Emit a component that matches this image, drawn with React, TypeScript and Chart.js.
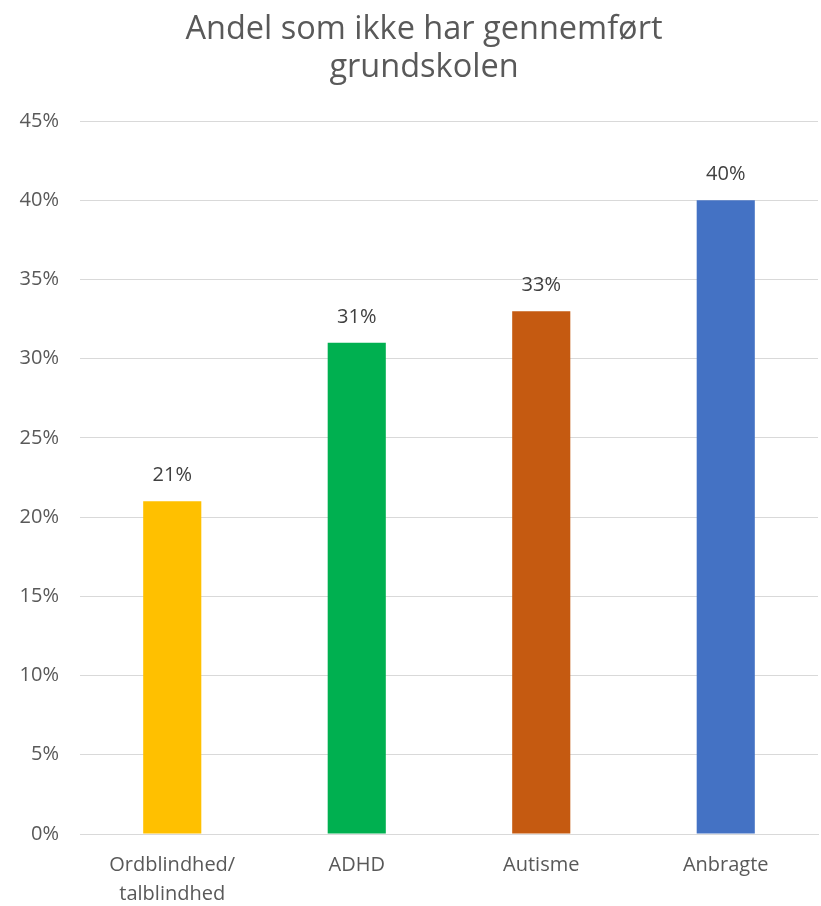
import React, { useEffect, useRef } from "react";
import { Chart, registerables } from "chart.js";

Chart.register(...registerables);

const categories: (string | string[])[] = [["Ordblindhed/", "talblindhed"], "ADHD", "Autisme", "Anbragte"];
const values: number[] = [21, 31, 33, 40];
const barColors: string[] = ["#FFC000", "#00B050", "#C55A11", "#4472C4"];
const titleLines: string[] = ["Andel som ikke har gennemført", "grundskolen"];

const FONT = "'Open Sans', sans-serif";

const valueLabels = {
  id: "valueLabels",
  afterDatasetsDraw(chart: any) {
    const ctx = chart.ctx;
    const meta = chart.getDatasetMeta(0);
    ctx.save();
    ctx.font = `20px ${FONT}`;
    ctx.fillStyle = "#404040";
    ctx.textAlign = "center";
    ctx.textBaseline = "middle";
    meta.data.forEach((bar: any, i: number) => {
      ctx.fillText(values[i] + "%", bar.x, bar.y - 26);
    });
    ctx.restore();
  },
};

const titleDraw = {
  id: "titleDraw",
  afterDraw(chart: any) {
    const ctx = chart.ctx;
    ctx.save();
    ctx.font = `32.5px ${FONT}`;
    ctx.fillStyle = "#595959";
    ctx.textAlign = "center";
    ctx.textBaseline = "middle";
    ctx.fillText(titleLines[0], 424, 30);
    ctx.fillText(titleLines[1], 424, 68);
    ctx.restore();
  },
};

export default function App() {
  const ref = useRef<HTMLCanvasElement>(null);
  useEffect(() => {
    if (!ref.current) return;
    const chart = new Chart(ref.current, {
      type: "bar",
      data: {
        labels: categories,
        datasets: [
          {
            data: values,
            backgroundColor: barColors,
            categoryPercentage: 1,
            barPercentage: 0.315,
          },
        ],
      },
      options: {
        animation: false,
        responsive: false,
        maintainAspectRatio: false,
        layout: { padding: { left: 0, right: 3, top: 121, bottom: 0 } },
        plugins: {
          legend: { display: false },
          tooltip: { enabled: false },
          title: { display: false },
        },
        scales: {
          x: {
            grid: { display: false, drawTicks: false },
            border: { display: true, color: "#D9D9D9", width: 1 },
            ticks: {
              color: "#595959",
              font: { family: FONT, size: 20, lineHeight: 1.45 },
              padding: 17,
              maxRotation: 0,
            },
            afterFit: (s: any) => {
              s.height = 72;
            },
          },
          y: {
            min: 0,
            max: 45,
            grid: { color: "#D9D9D9", drawTicks: false },
            border: { display: false },
            ticks: {
              stepSize: 5,
              color: "#595959",
              font: { family: FONT, size: 20 },
              padding: 21,
              callback: (v: any) => v + "%",
            },
            afterFit: (s: any) => {
              s.width = 80;
            },
          },
        },
      },
      plugins: [valueLabels, titleDraw],
    });
    return () => chart.destroy();
  }, []);
  return (
    <div style={{ position: "absolute", left: 0, top: 0, width: 821, height: 906, background: "#fff" }}>
      <canvas ref={ref} width={821} height={906} />
    </div>
  );
}
